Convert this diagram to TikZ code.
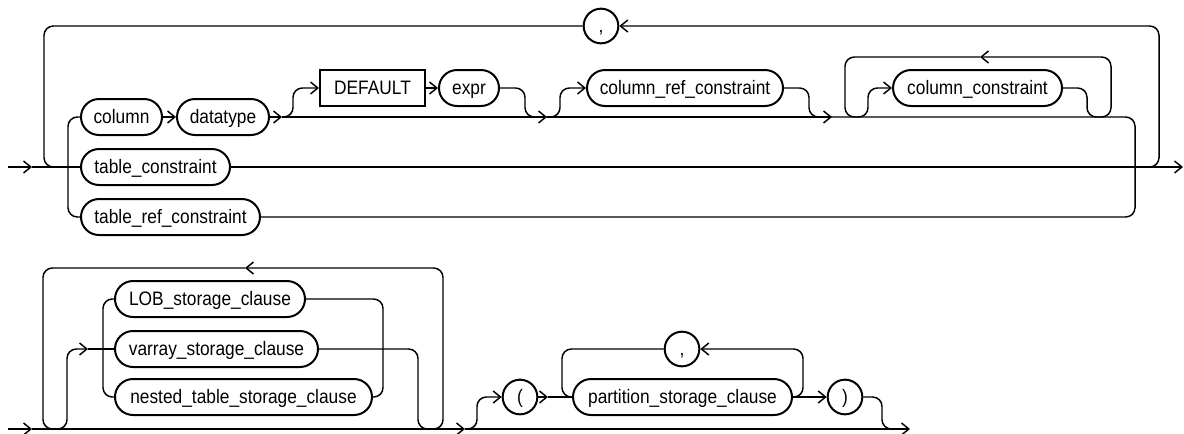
\documentclass[tikz,border=0pt]{standalone}
\usepackage{fontspec}
\setmainfont[FakeStretch=0.89]{Liberation Sans}
\usetikzlibrary{arrows.meta}
\tikzset{railbox/.style={draw,line width=1.5pt,rounded corners=13.5pt,minimum height=27pt,
 inner xsep=6pt,font=\fontsize{14.6pt}{17pt}\selectfont,text height=10.2pt,text depth=0.8pt},
 railline/.style={line width=1.1pt,rounded corners=7pt},
 railtip/.style={-{Straight Barb[length=5.5pt,width=9pt]}}}

\begin{document}
\begin{tikzpicture}[x=0.75pt,y=-0.75pt,w/.style={minimum width=#1*0.75pt},
 kw/.style={railbox,sharp corners},sym/.style={railbox,sharp corners,circle,minimum size=26pt,inner sep=0pt}]
\useasboundingbox (0,0) rectangle (1184,433);
% column definitions
\node[railbox,w=81] (col) at (121.5,117) {column};
\node[railbox,w=92] (dtype) at (223,117) {datatype};
\node[kw,w=105] (dflt) at (372.5,88) {DEFAULT};
\node[railbox,w=60] (expr) at (469,88) {expr};
\node[railbox,w=196] (cref) at (685,88) {column\_ref\_constraint};
\node[railbox,w=169] (ccons) at (977.5,88) {column\_constraint};
\node[railbox,w=149] (tcons) at (155.5,167) {table\_constraint};
\node[railbox,w=179] (trcons) at (170.5,217) {table\_ref\_constraint};
\node[sym] (comma1) at (601,26) {,};
\coordinate (in1) at (8,167);
\coordinate (a1) at (32,167);
\coordinate (out1) at (1183,167);
\coordinate (r1a) at (282,117);
\coordinate (r1b) at (547,117);
\coordinate (r1c) at (832,117);
\coordinate (cctop) at (980,57);
\coordinate (jr1) at (1140,167);
\coordinate (jl1) at (60,167);
\draw[railline,railtip] (in1) -- (a1);
\draw[railline] (a1) -- (tcons);
\draw[railline,railtip] (tcons) -- (out1);
\draw[railline,railtip] (jr1) -| (1159,26) -- (comma1);
\draw[railline] (comma1) -| (44,167) -- (jl1);
\draw[railline] (col) -| (68,217) -- (trcons);
\draw[railline,railtip] (col) -- (dtype);
\draw[railline,railtip] (dtype) -- (r1a);
\draw[railline,railtip] (r1a) -- (r1b);
\draw[railline,railtip] (r1b) -- (r1c);
\draw[railline] (r1c) -| (1135,217) -- (trcons);
\draw[railline,railtip] (r1a) -- ++(11,0) |- (dflt);
\draw[railline,railtip] (dflt) -- (expr);
\draw[railline] (expr) -| (525,117) -- (r1b);
\draw[railline,railtip] (r1b) -- ++(13,0) |- (cref);
\draw[railline] (cref) -| (809,117) -- (r1c);
\draw[railline,railtip] (ccons) -| (1087,117) -| (1111,57) -- (cctop);
\draw[railline,railtip] (cctop) -| (845,117) -- (868,117) |- (ccons);
% storage clauses
\node[railbox,w=190] (lob) at (210,299) {LOB\_storage\_clause};
\node[railbox,w=203] (varr) at (216.5,349) {varray\_storage\_clause};
\node[railbox,w=257] (nest) at (243.5,397) {nested\_table\_storage\_clause};
\node[sym] (lpar) at (520,397) {(};
\node[railbox,w=219] (psc) at (682.5,397) {partition\_storage\_clause};
\node[sym] (comma2) at (682,349) {,};
\node[sym] (rpar) at (845,397) {)};
\coordinate (in2) at (8,429);
\coordinate (a2) at (32,429);
\coordinate (b2) at (465,429);
\coordinate (out2) at (910,429);
\coordinate (va) at (88,349);
\coordinate (lptop) at (245,268);
\coordinate (pa) at (548,397);
\coordinate (j2) at (895,429);
\draw[railline,railtip] (in2) -- (a2);
\draw[railline,railtip] (a2) -- (b2);
\draw[railline,railtip] (b2) -- (out2);
\draw[railline,railtip] (lptop) -| (43,429) -- (67,429) |- (va);
\draw[railline] (va) -- (varr);
\draw[railline,railtip] (varr) -| (418,429) -| (443,268) -- (lptop);
\draw[railline] (lob) -| (103,397) -- (nest);
\draw[railline] (lob) -| (383,397) -- (nest);
\draw[railline,railtip] (b2) -- ++(12,0) |- (lpar);
\draw[railline,railtip] (lpar) -- (pa);
\draw[railline] (pa) -- (psc);
\draw[railline,railtip] (psc) -| (803,349) -- (comma2);
\draw[railline] (comma2) -| (562,397) -- (psc);
\draw[railline,railtip] (psc) -- (rpar);
\draw[railline] (rpar) -| (882,429) -- (j2);
\end{tikzpicture}
\end{document}
